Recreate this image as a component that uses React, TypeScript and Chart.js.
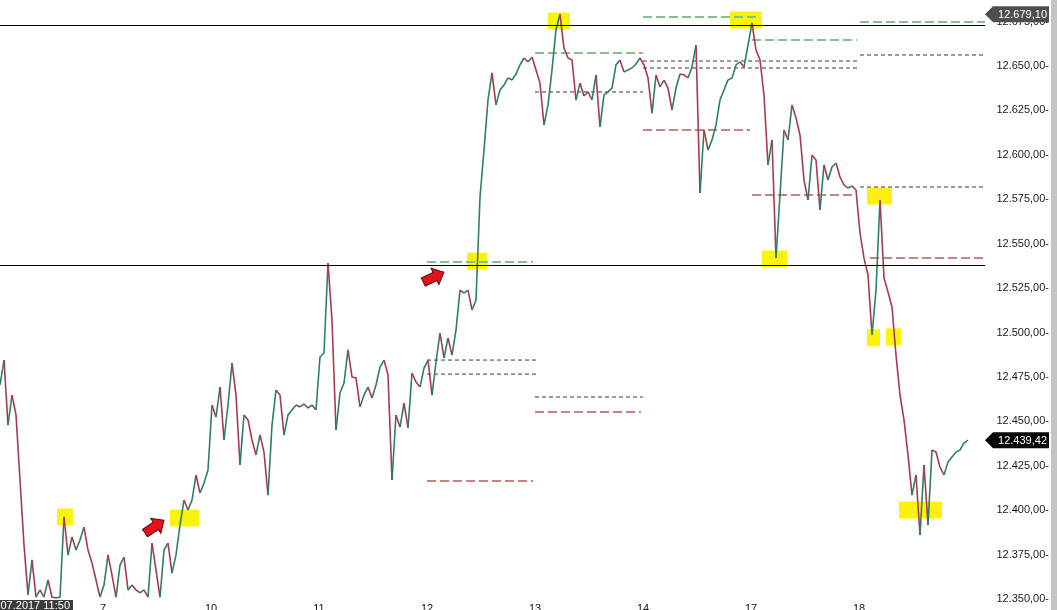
import React, { useEffect, useRef } from 'react';
import { Chart, registerables } from 'chart.js';

Chart.register(...registerables);

// Price path, one value every bar (uniform bar spacing)
const prices = [
  12470.5, 12484.5, 12447.9, 12464.8, 12453.6, 12417.0, 12380.4, 12352.3, 12372.0, 12351.1,
  12355.1, 12351.1, 12360.7, 12351.1, 12350.6, 12351.1, 12396.2, 12374.8, 12384.9, 12377.6,
  12383.2, 12390.5, 12377.6, 12370.3, 12360.7, 12351.1, 12357.9, 12374.8, 12363.5, 12351.1,
  12369.1, 12373.6, 12355.1, 12357.9, 12355.1, 12353.4, 12355.1, 12351.1, 12381.5, 12366.3,
  12351.1, 12377.6, 12381.5, 12364.6, 12374.8, 12391.7, 12405.7, 12400.1, 12405.7, 12419.8,
  12409.7, 12415.3, 12422.6, 12459.2, 12452.4, 12469.3, 12439.5, 12459.2, 12482.8, 12464.8,
  12425.4, 12453.6, 12450.8, 12439.5, 12431.1, 12442.3, 12432.7, 12408.5, 12447.9, 12467.6,
  12464.8, 12442.3, 12453.6, 12456.4, 12459.2, 12458.1, 12459.8, 12457.5, 12459.2, 12456.4,
  12486.2, 12488.5, 12539.1, 12507.0, 12445.1, 12466.0, 12471.6, 12490.2, 12475.0, 12474.4,
  12458.1, 12464.8, 12469.3, 12463.1, 12470.5, 12480.6, 12484.5, 12476.1, 12417.0, 12453.6,
  12446.8, 12460.3, 12446.3, 12477.2, 12472.1, 12469.3, 12480.0, 12484.5, 12464.8, 12483.4,
  12499.7, 12485.7, 12496.9, 12487.3, 12501.4, 12523.9, 12522.2, 12523.9, 12512.7, 12518.3,
  12576.3, 12602.7, 12630.9, 12646.1, 12628.1, 12636.5, 12639.3, 12643.3, 12642.1, 12645.5,
  12650.6, 12654.5, 12652.3, 12655.1, 12647.8, 12640.4, 12616.8, 12628.1, 12647.8, 12670.3,
  12679.1, 12660.1, 12654.5, 12653.4, 12630.9, 12640.4, 12633.1, 12635.4, 12630.9, 12644.9,
  12615.7, 12633.7, 12635.4, 12637.6, 12650.6, 12653.4, 12646.6, 12647.8, 12648.9, 12651.1,
  12654.5, 12650.6, 12643.3, 12623.5, 12644.9, 12638.2, 12642.1, 12637.6, 12625.2, 12637.6,
  12645.5, 12644.9, 12643.3, 12649.4, 12661.8, 12578.5, 12614.0, 12602.7, 12608.4, 12616.8,
  12630.9, 12636.5, 12642.1, 12643.3, 12650.6, 12652.3, 12649.4, 12661.8, 12674.2, 12659.0,
  12653.4, 12633.7, 12594.3, 12608.4, 12541.9, 12577.4, 12614.0, 12608.4, 12628.1, 12620.7,
  12611.2, 12585.8, 12574.6, 12599.9, 12597.1, 12569.0, 12594.3, 12585.8, 12593.2, 12595.4,
  12587.5, 12583.0, 12581.3, 12582.5, 12580.2, 12556.0, 12541.9, 12532.4, 12498.6, 12523.9,
  12574.6, 12530.7, 12522.8, 12514.4, 12487.3, 12464.8, 12450.8, 12431.1, 12408.5, 12419.8,
  12386.0, 12425.4, 12391.7, 12433.9, 12432.7, 12424.3, 12419.8, 12427.1, 12429.9, 12432.7,
  12433.9, 12437.8, 12439.42,
];

// Session opens (bar index) and their day labels
const sessionOpenBar = [25.75, 52.75, 79.75, 106.75, 133.75, 160.75, 187.75, 214.75];
const sessionLabels = ['7', '10', '11', '12', '13', '14', '17', '18'];

// Horizontal support / resistance lines
const keyLevels = [12673.1, 12538.0];

// [fromBar, toBar, price]
const greenLevels = [
  [160.75, 190, 12677.6],
  [188, 214.25, 12664.6],
  [215, 246.25, 12674.8],
  [133.75, 160.75, 12657.3],
  [106.75, 133.25, 12539.7],
];
const redLevels = [
  [160.75, 187.5, 12614.0],
  [188, 214.25, 12577.4],
  [217.5, 246.25, 12541.9],
  [133.75, 160.25, 12455.3],
  [106.75, 133.25, 12416.4],
];
const thinLevels = [
  [106.75, 134.25, 12484.5],
  [106.75, 134.25, 12476.6],
  [133.75, 160.75, 12635.4],
  [160.75, 214.25, 12652.8],
  [160.75, 214.25, 12648.9],
  [215, 246.25, 12656.2],
  [215, 246.25, 12581.9],
  [133.75, 160.75, 12463.7],
];

// Highlighted zones [fromBar, toBar, price]
const highlightZones = [
  [14.25, 18.25, 12396.2],
  [42.5, 49.75, 12395.6],
  [116.75, 121.75, 12540.2],
  [137, 142.5, 12675.3],
  [182.5, 190.5, 12675.9],
  [190.5, 196.75, 12541.4],
  [216.75, 223, 12576.8],
  [216.75, 220, 12497.0],
  [221.5, 225.25, 12497.5],
  [224.75, 235.5, 12400.1],
];

// Arrow tips [bar, price]
const arrowTips = [
  [41, 12394.4],
  [111, 12534.0],
];

const sessionHigh = 12679.1;
const lastPrice = 12439.42;
const cursorLabel = '06.07.2017 11:50';

const X_MIN = 0;
const X_MAX = 246.25;
const Y_MIN = 12349.45;
const Y_MAX = 12687.15;

function fmt(v: number): string {
  const s = v.toFixed(2);
  const [i, d] = s.split('.');
  return i.replace(/\B(?=(\d{3})+(?!\d))/g, '.') + ',' + d;
}

const FONT = '11px "Liberation Sans", Arial, sans-serif';

function drawArrow(ctx: CanvasRenderingContext2D, tx: number, ty: number, ang: number) {
  ctx.save();
  ctx.translate(tx, ty);
  ctx.rotate(ang);
  const L = 23, hl = 10, hw = 9, bw = 4.5;
  ctx.beginPath();
  ctx.moveTo(0, 0);
  ctx.lineTo(-hl, -hw);
  ctx.lineTo(-hl, -bw);
  ctx.lineTo(-L, -bw);
  ctx.lineTo(-L, bw);
  ctx.lineTo(-hl, bw);
  ctx.lineTo(-hl, hw);
  ctx.closePath();
  ctx.fillStyle = '#e3121b';
  ctx.fill();
  ctx.lineWidth = 1;
  ctx.strokeStyle = '#5a0b0b';
  ctx.stroke();
  ctx.restore();
}

function drawTag(ctx: CanvasRenderingContext2D, yc: number, text: string, bg: string) {
  ctx.save();
  ctx.beginPath();
  ctx.moveTo(985, yc);
  ctx.lineTo(993, yc - 8);
  ctx.lineTo(1049, yc - 8);
  ctx.lineTo(1049, yc + 8);
  ctx.lineTo(993, yc + 8);
  ctx.closePath();
  ctx.fillStyle = bg;
  ctx.fill();
  ctx.fillStyle = '#ffffff';
  ctx.font = FONT;
  ctx.textAlign = 'right';
  ctx.textBaseline = 'middle';
  ctx.fillText(text, 1047, yc + 0.5);
  ctx.restore();
}

const overlayPlugin = {
  id: 'overlay',
  beforeDatasetsDraw(chart: any) {
    const { ctx, scales } = chart;
    const x = scales.x, y = scales.y;
    ctx.save();
    ctx.fillStyle = '#fbf20e';
    for (const [a, b, p] of highlightZones) {
      const x0 = x.getPixelForValue(a);
      const x1 = x.getPixelForValue(b);
      const yc = y.getPixelForValue(p);
      ctx.fillRect(x0, yc - 8.5, x1 - x0, 17);
    }
    ctx.restore();
  },
  afterDatasetsDraw(chart: any) {
    const { ctx, scales, chartArea } = chart;
    const y = scales.y;
    ctx.save();
    ctx.strokeStyle = '#000000';
    ctx.lineWidth = 1;
    for (const p of keyLevels) {
      const yy = Math.round(y.getPixelForValue(p)) + 0.5;
      ctx.beginPath();
      ctx.moveTo(chartArea.left, yy);
      ctx.lineTo(chartArea.right, yy);
      ctx.stroke();
    }
    ctx.restore();
  },
  afterDraw(chart: any) {
    const { ctx, scales } = chart;
    const x = scales.x, y = scales.y;
    const angles = [-0.6, -0.45];
    arrowTips.forEach(([b, p], i) => {
      drawArrow(ctx, x.getPixelForValue(b), y.getPixelForValue(p), angles[i]);
    });
    drawTag(ctx, y.getPixelForValue(sessionHigh), fmt(sessionHigh), '#4e4e4e');
    drawTag(ctx, y.getPixelForValue(lastPrice), fmt(lastPrice), '#050505');
    // cursor time label
    ctx.save();
    ctx.fillStyle = '#3c3c3c';
    ctx.fillRect(0, 600, 73, 10);
    ctx.fillStyle = '#ffffff';
    ctx.font = FONT;
    ctx.textAlign = 'right';
    ctx.textBaseline = 'middle';
    ctx.fillText(cursorLabel, 70, 606);
    // scrollbar
    ctx.fillStyle = '#c4c4c4';
    ctx.fillRect(1051, 0, 6, 610);
    ctx.restore();
  },
};

function levelDataset(lv: number[], color: string, dash: number[], width: number, order: number) {
  return {
    type: 'line' as const,
    data: [
      { x: lv[0], y: lv[2] },
      { x: lv[1], y: lv[2] },
    ],
    borderColor: color,
    borderWidth: width,
    borderDash: dash,
    pointRadius: 0,
    fill: false,
    order,
  };
}

export default function App() {
  const ref = useRef<HTMLCanvasElement | null>(null);

  useEffect(() => {
    if (!ref.current) return;
    const UP = '#2f7f64';
    const DOWN = '#a83b4b';
    const datasets: any[] = [];
    datasets.push({
      type: 'line',
      data: prices.map((p, i) => ({ x: i, y: p })),
      borderColor: UP,
      borderWidth: 1.6,
      pointRadius: 0,
      fill: false,
      order: 1,
      segment: {
        borderColor: (c: any) => (c.p1.parsed.y >= c.p0.parsed.y ? UP : DOWN),
      },
    });
    greenLevels.forEach((l) => datasets.push(levelDataset(l, '#86c08e', [9, 4], 2, 2)));
    redLevels.forEach((l) => datasets.push(levelDataset(l, '#c48484', [9, 4], 2, 2)));
    thinLevels.forEach((l) => datasets.push(levelDataset(l, '#3a3a3a', [4, 3], 1, 2)));

    const chart = new Chart(ref.current, {
      type: 'line',
      data: { datasets },
      plugins: [overlayPlugin],
      options: {
        animation: false,
        responsive: false,
        devicePixelRatio: 1,
        layout: { padding: { left: 0, right: 8, top: 0, bottom: 0 } },
        plugins: { legend: { display: false }, tooltip: { enabled: false } },
        scales: {
          x: {
            type: 'linear',
            min: X_MIN,
            max: X_MAX,
            grid: { display: false, drawTicks: false, tickLength: 0 },
            border: { display: false },
            afterFit: (s: any) => {
              s.height = 10;
              s.paddingLeft = 0;
              s.paddingRight = 0;
            },
            afterBuildTicks: (s: any) => {
              s.ticks = sessionOpenBar.map((v) => ({ value: v }));
            },
            ticks: {
              autoSkip: false,
              maxRotation: 0,
              padding: 2,
              color: '#111111',
              font: { family: '"Liberation Sans", Arial, sans-serif', size: 11 },
              callback: (_v: any, i: number) => sessionLabels[i],
            },
          },
          y: {
            type: 'linear',
            position: 'right',
            min: Y_MIN,
            max: Y_MAX,
            grid: { display: false, drawTicks: false, tickLength: 0 },
            border: { display: false },
            afterFit: (s: any) => {
              s.width = 64;
              s.paddingTop = 0;
              s.paddingBottom = 0;
            },
            ticks: {
              stepSize: 25,
              includeBounds: false,
              crossAlign: 'far',
              padding: 0,
              color: '#1a1a1a',
              font: { family: '"Liberation Sans", Arial, sans-serif', size: 11 },
              callback: (v: any) => fmt(Number(v)) + '-',
            },
          },
        },
      } as any,
    });
    return () => chart.destroy();
  }, []);

  return (
    <div style={{ position: 'absolute', left: 0, top: 0, width: 1057, height: 610, background: '#ffffff' }}>
      <canvas ref={ref} width={1057} height={610} style={{ display: 'block' }} />
    </div>
  );
}
